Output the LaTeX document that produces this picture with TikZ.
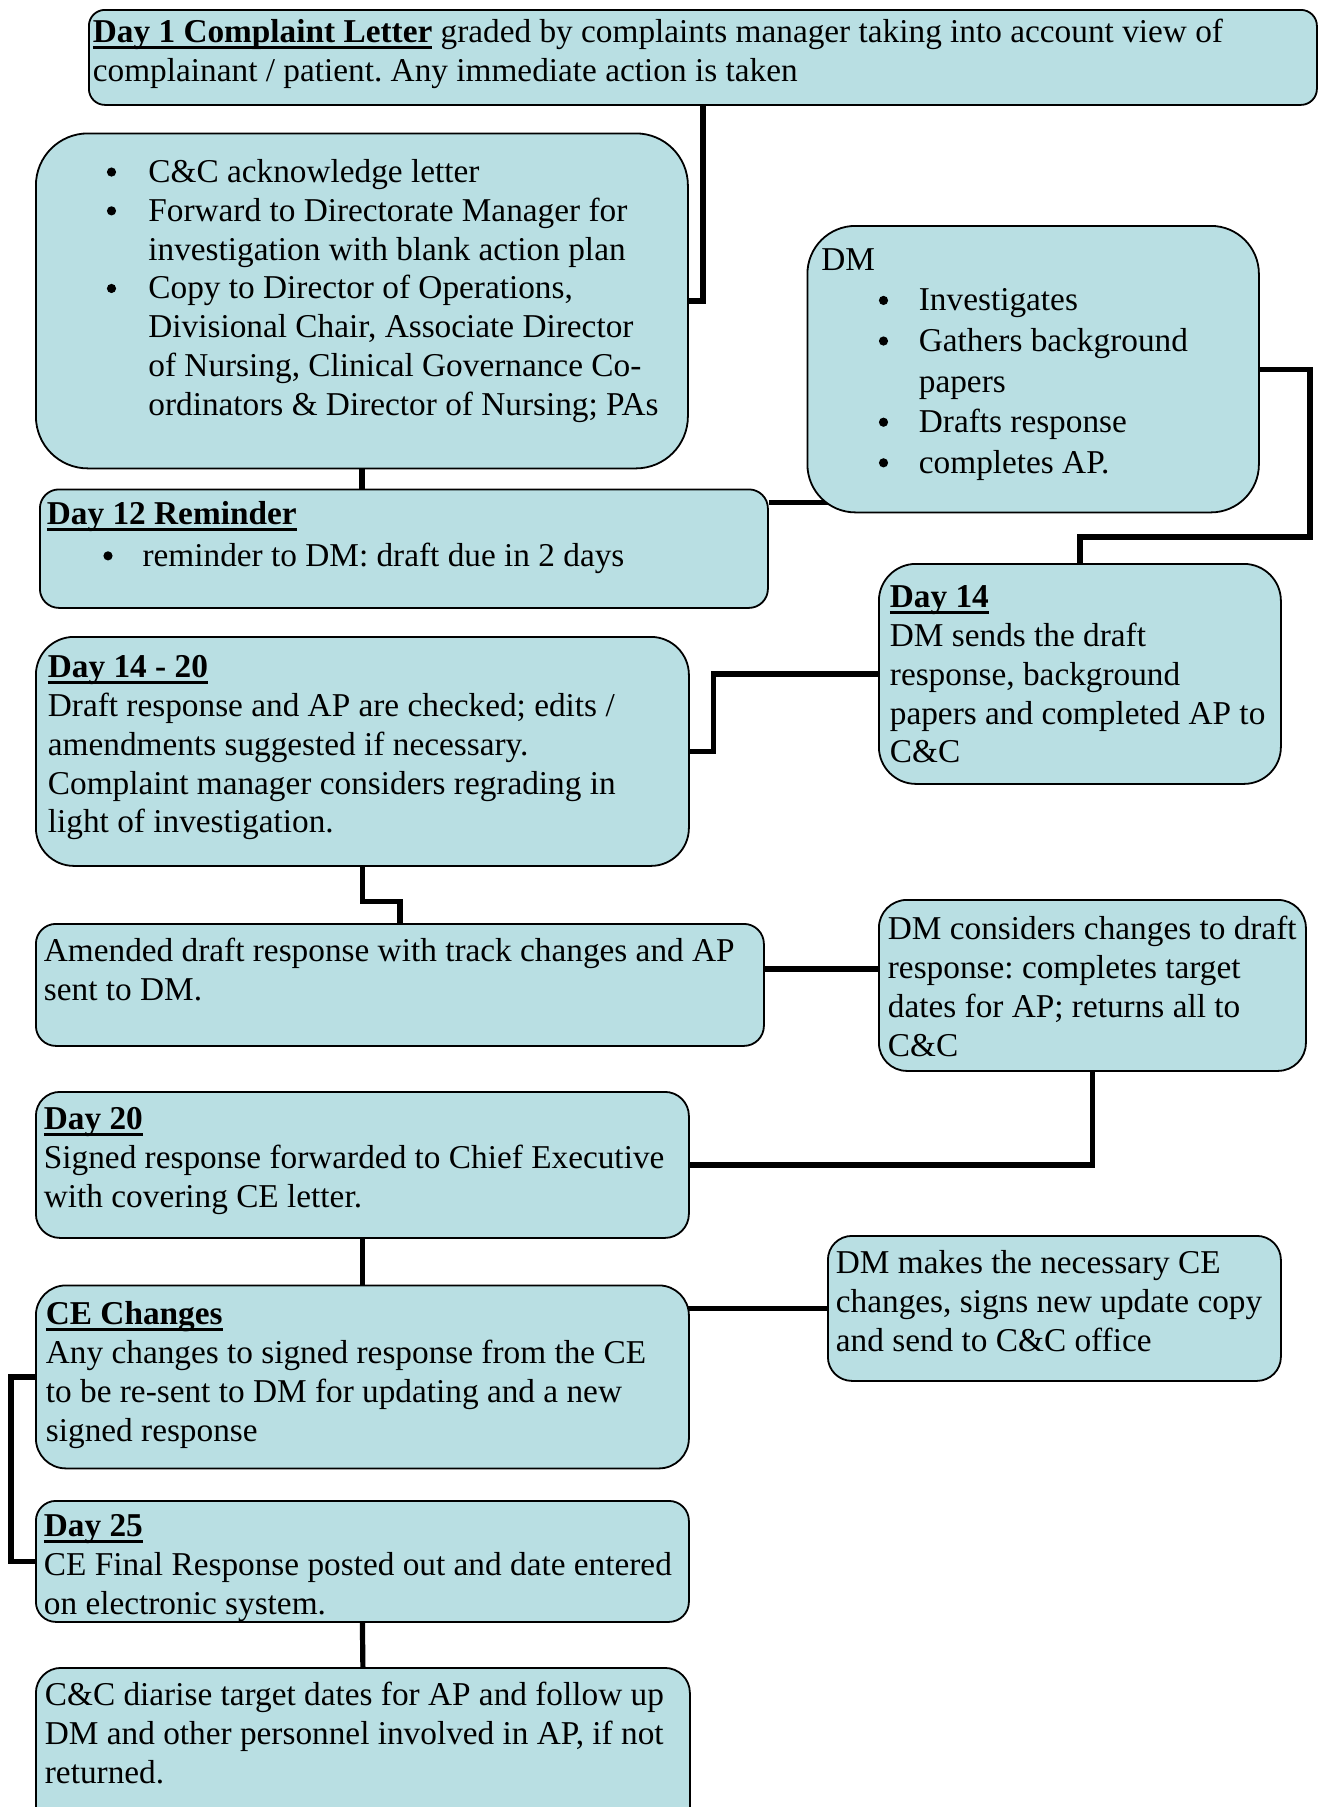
\documentclass[tikz,border=0pt]{standalone}
\usepackage{fontspec}
\setmainfont{Liberation Serif}
\usetikzlibrary{backgrounds}
\frenchspacing

\definecolor{boxblue}{RGB}{185,223,227}

% text block of a box: width, height, top gap, lines
\newcommand{\boxtext}[4]{\parbox[t][#2][t]{#1}{\raggedright\vspace*{#3}\strut#4}}
\newcommand{\bitem}[2]{\hspace*{#1}\makebox[#2][l]{\tikz[baseline={(0pt,-10.5pt)}]\fill[black] (0pt,0pt) circle (4.6pt);}}
\newsavebox{\headbox}
\newcommand{\uhead}[1]{\sbox{\headbox}{\textbf{#1}}\rlap{\rule[-6pt]{\wd\headbox}{3pt}}\usebox{\headbox}}

\tikzset{
  stepbox/.style={draw=black, line width=1.8pt, fill=boxblue, inner xsep=9pt,
    inner ysep=0pt, anchor=north west, font=\fontsize{33.3}{38.8}\selectfont},
  link/.style={line width=5.2pt}
}

\begin{document}
\begin{tikzpicture}[x=1pt, y=-1pt]
        \useasboundingbox (0,0) rectangle (1318,1807);

        \node[stepbox, rounded corners=16pt, inner xsep=4pt] (letter) at (88,9)
            {\boxtext{1220pt}{95pt}{5.7pt}{\uhead{Day 1 Complaint Letter} graded by complaints manager taking into account view of\\
            complainant / patient. Any immediate action is taken}};
        \node[stepbox, rounded corners=52pt] (ack) at (35,132.5)
            {\boxtext{634pt}{335pt}{22pt}{\bitem{62pt}{41.5pt}C\&C acknowledge letter\\
            \bitem{62pt}{41.5pt}Forward to Directorate Manager for\\
            \hspace*{103.5pt}investigation with blank action plan\\
            \bitem{62pt}{41.5pt}Copy to Director of Operations,\\
            \hspace*{103.5pt}Divisional Chair, Associate Director\\
            \hspace*{103.5pt}of Nursing, Clinical Governance Co-\\
            \hspace*{103.5pt}ordinators \& Director of Nursing; PAs}};
        \node[stepbox, rounded corners=48pt, inner xsep=14pt,
              font=\fontsize{33.3}{40.6}\selectfont] (dm) at (806.5,225)
            {\boxtext{423.5pt}{286.5pt}{16pt}{DM\\
            \bitem{57.5pt}{40pt}Investigates\\
            \bitem{57.5pt}{40pt}Gathers background\\
            \hspace*{97.5pt}papers\\
            \bitem{57.5pt}{40pt}Drafts response\\
            \bitem{57.5pt}{40pt}completes AP.}};
        \node[stepbox, rounded corners=19pt, inner xsep=7pt] (remind) at (39,488.5)
            {\boxtext{714pt}{118.5pt}{8pt}{\uhead{Day 12 Reminder}\\[3pt]
            \bitem{56.5pt}{39.2pt}reminder to DM: draft due in 2 days}};
        \node[stepbox, rounded corners=37pt, inner xsep=11pt] (sent) at (878,563)
            {\boxtext{380pt}{220pt}{16.7pt}{\uhead{Day 14}\\
            DM sends the draft\\
            response, background\\
            papers and completed AP to\\
            C\&C}};
        \node[stepbox, rounded corners=38pt, inner xsep=12pt] (check) at (35,636)
            {\boxtext{629pt}{229pt}{13.7pt}{\uhead{Day 14 - 20}\\
            Draft response and AP are checked; edits /\\
            amendments suggested if necessary.\\
            Complaint manager considers regrading in\\
            light of investigation.}};
        \node[stepbox, rounded corners=20pt, inner xsep=8pt] (amend) at (35,923)
            {\boxtext{712pt}{122pt}{10.7pt}{Amended draft response with track changes and AP\\
            sent to DM.}};
        \node[stepbox, rounded corners=28pt] (review) at (878,899)
            {\boxtext{409pt}{171pt}{12.7pt}{DM considers changes to draft\\
            response: completes target\\
            dates for AP; returns all to\\
            C\&C}};
        \node[stepbox, rounded corners=24pt, inner xsep=8pt] (sign) at (35,1091)
            {\boxtext{637pt}{146pt}{10.7pt}{\uhead{Day 20}\\
            Signed response forwarded to Chief Executive\\
            with covering CE letter.}};
        \node[stepbox, rounded corners=24pt, inner xsep=8pt] (fix) at (827,1235)
            {\boxtext{437pt}{145pt}{10.7pt}{DM makes the necessary CE\\
            changes, signs new update copy\\
            and send to C\&C office}};
        \node[stepbox, rounded corners=30pt, inner xsep=10pt] (cechg) at (35,1284.5)
            {\boxtext{633pt}{183pt}{12.2pt}{\uhead{CE Changes}\\
            Any changes to signed response from the CE\\
            to be re-sent to DM for updating and a new\\
            signed response}};
        \node[stepbox, rounded corners=20pt, inner xsep=8pt] (final) at (35,1500)
            {\boxtext{637pt}{121pt}{8.7pt}{\uhead{Day 25}\\
            CE Final Response posted out and date entered\\
            on electronic system.}};
        \node[stepbox, rounded corners=25pt] (diary) at (35,1667)
            {\boxtext{636pt}{170pt}{10.7pt}{C\&C diarise target dates for AP and follow up\\
            DM and other personnel involved in AP, if not\\
            returned.}};

        \coordinate (dmturn) at (1310,537);

        \begin{scope}[on background layer]
        \draw[link] (letter.south) |- (ack.east);
        \draw[link] (ack.south) -- (ack.south |- remind.north);
        \draw[link] ([yshift=46pt]remind.east) -- ++(100,0);
        \draw[link] (dm.east) -| (dmturn) -| (sent.north);
        \draw[link] (sent.west) -| ([xshift=24pt]check.east) -- (check.east);
        \draw[link] (check.south) -- ++(0,35) -| (amend.north);
        \draw[link] ([yshift=16pt]amend.east) -- ++(120,0);
        \draw[link] (review.south) |- (sign.east);
        \draw[link] (sign.south) -- (cechg.north);
        \draw[link] (fix.west) -- ++(-160,0);
        \draw[link] (cechg.west) -- ++(-24,0) |- (final.west);
        \draw[link] (final.south) -- (diary.north);
        \end{scope}
\end{tikzpicture}
\end{document}
